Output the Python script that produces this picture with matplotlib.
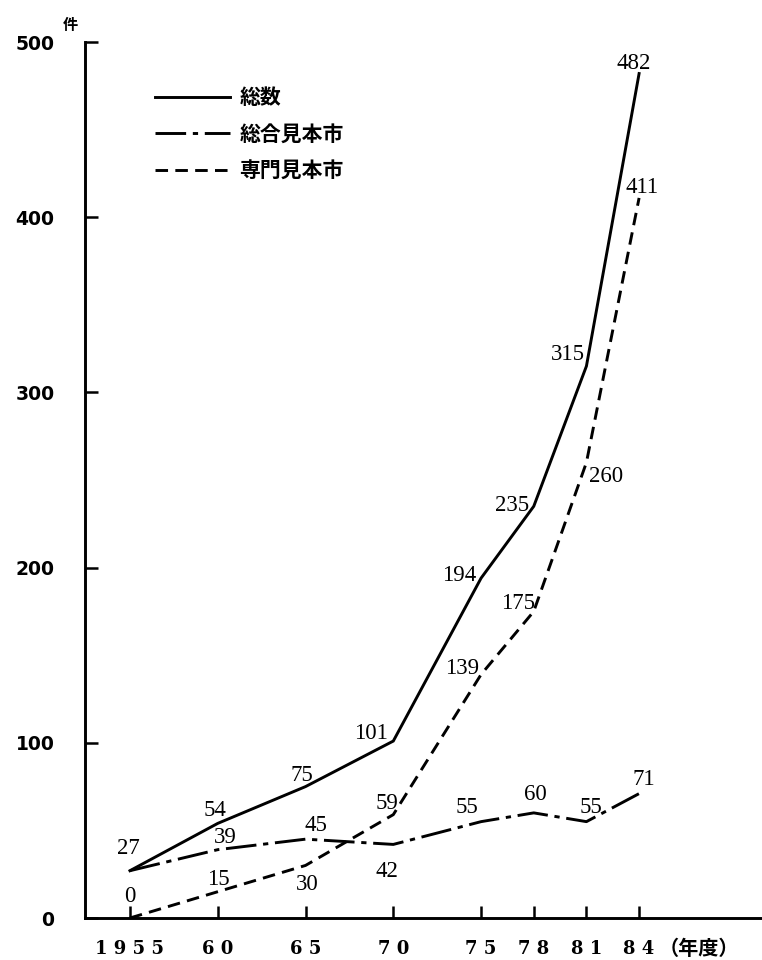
import matplotlib
matplotlib.use('Agg')
import matplotlib.pyplot as plt

# data (件, 年度)
years = [1955, 1960, 1965, 1970, 1975, 1978, 1981, 1984]
year_labels = ['1 9 5 5', '6 0', '6 5', '7 0', '7 5', '7 8', '8 1', '8 4']
total = [27, 54, 75, 101, 194, 235, 315, 482]
general = [27, 39, 45, 42, 55, 60, 55, 71]
special = [0, 15, 30, 59, 139, 175, 260, 411]
series_names = ['総数', '総合見本市', '専門見本市']
y_ticks = [0, 100, 200, 300, 400, 500]

# label offsets in pixels (dx, dy) for each point
off_total = [(-2, 22), (-3, 13), (-4, 11), (-22, 8), (-22, 3), (-22, 1), (-19, 12), (-5, 10)]
off_general = [None, (8, 12), (10, 14), (-6, -27), (-14, 14), (2, 18), (5, 14), (5, 14)]
off_special = [(0, 21), (1, 12), (2, -19), (-6, 11), (-19, 6), (-16, 8), (20, -14), (3, 10)]

W, H = 762, 960
fig = plt.figure(figsize=(W / 100, H / 100), dpi=100)
ax = fig.add_axes([85 / W, 1 - 918 / H, 1 - 85 / W, (918 - 42) / H])

jp = ['Noto Sans CJK JP', 'DejaVu Sans']
lw = 2.1
l1, = ax.plot(years, total, color='black', lw=lw, solid_joinstyle='miter')
l2, = ax.plot(years, general, color='black', lw=lw, linestyle=(0, (10.5, 2.3, 1.8, 2.3)))
l3, = ax.plot(years, special, color='black', lw=lw, linestyle=(0, (4.3, 2.5)))

def put_labels(xs, ys, offs):
    for x, y, o in zip(xs, ys, offs):
        if o is None:
            continue
        ax.annotate(str(y), (x, y), xytext=o, textcoords='offset pixels',
                    ha='center', va='center', fontsize=16.5, family='Liberation Serif')

put_labels(years, total, off_total)
put_labels(years, general, off_general)
put_labels(years, special, off_special)

ax.set_xlim(1952.44, 1991.0)
ax.set_ylim(0, 500)
ax.set_xticks(years)
ax.set_xticklabels(year_labels, family='DejaVu Serif', fontweight='bold', fontsize=13)
ax.set_yticks(y_ticks)
ax.set_yticklabels([str(v) for v in y_ticks], family='DejaVu Sans', fontweight='bold', fontsize=13.5)
ax.tick_params(axis='both', direction='in', length=9, width=1.8, color='black')
ax.tick_params(axis='y', pad=22)
ax.tick_params(axis='x', pad=16)

for s in ['top', 'right']:
    ax.spines[s].set_visible(False)
for s in ['left', 'bottom']:
    ax.spines[s].set_linewidth(2.1)

fig.text(70 / W, 1 - 25 / H, '件', family=jp, fontsize=11, fontweight='bold',
         ha='center', va='center')
fig.text(659 / W, 1 - 948 / H, '（年度）', family=jp, fontsize=14.5, fontweight='bold',
         ha='left', va='center')

ax.legend([l1, l2, l3], series_names, loc='upper left',
          bbox_to_anchor=(155 / W, 1 - 87 / H), bbox_transform=fig.transFigure,
          frameon=False, borderpad=0, borderaxespad=0, handlelength=3.6,
          handletextpad=0.45, labelspacing=0.75,
          prop={'family': jp, 'size': 15, 'weight': 'bold'})

fig.savefig('out.png', dpi=100, facecolor='white')
